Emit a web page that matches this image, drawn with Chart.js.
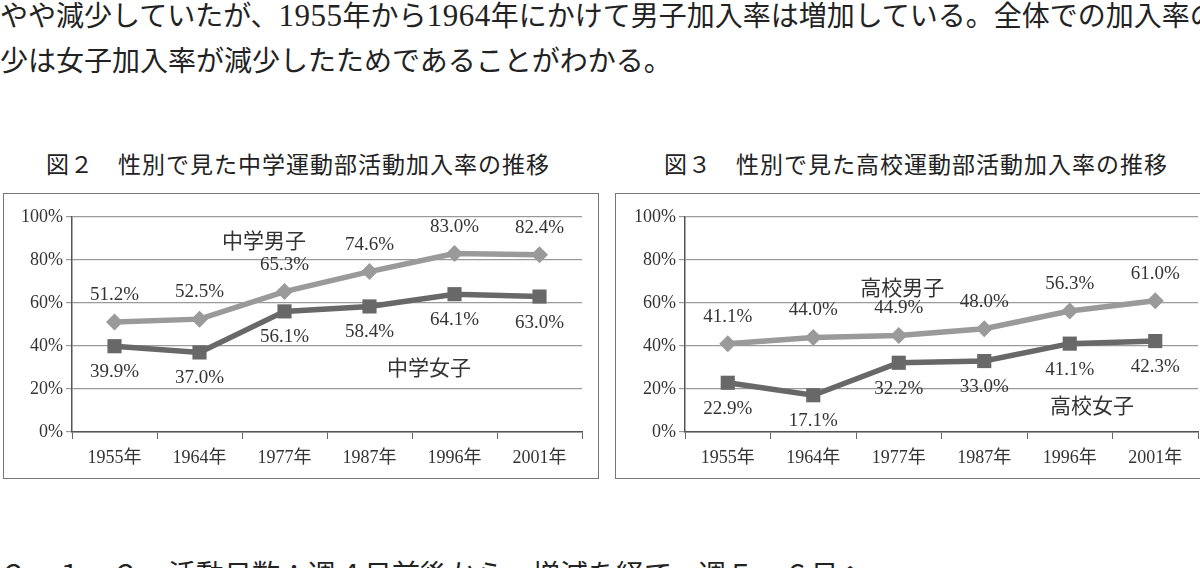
<!DOCTYPE html>
<html lang="ja">
<head>
  <meta charset="UTF-8">
  <title>運動部活動加入率の推移</title>
  <script src="https://cdn.jsdelivr.net/npm/chart.js"></script>
  <style>
    html, body { margin: 0; padding: 0; background: #fff; }
    body { width: 1200px; height: 568px; overflow: hidden; position: relative; color: #222;
           font-family: "Liberation Serif", "Noto Sans CJK JP", serif; }
    .txt { position: absolute; left: 0; white-space: nowrap; font-size: 28px; line-height: 28px; }
    .txt .n { font-size: 31px; letter-spacing: 0.5px; }
    .title { position: absolute; white-space: nowrap; font-size: 23px; line-height: 24px; letter-spacing: 1px;
             font-family: "Noto Sans CJK JP", sans-serif; }
    .box { position: absolute; top: 193px; height: 286px; border: 1.5px solid #777; box-sizing: border-box; }
    canvas { position: absolute; }
  </style>
</head>
<body>
  <div class="txt" style="top:2px">やや減少していたが、<span class="n">1955</span>年から<span class="n">1964</span>年にかけて男子加入率は増加している。全体での加入率の減</div>
  <div class="txt" style="top:48px">少は女子加入率が減少したためであることがわかる。</div>

  <div class="title" style="left:46px; top:151px">図２　性別で見た中学運動部活動加入率の推移</div>
  <div class="title" style="left:664px; top:151px">図３　性別で見た高校運動部活動加入率の推移</div>

  <div class="box" style="left:3px; width:596px"></div>
  <div class="box" style="left:615px; width:600px"></div>
  <canvas id="chart1" width="593" height="285" style="left:4px; top:194px; width:593px; height:285px"></canvas>
  <canvas id="chart2" width="593" height="285" style="left:617px; top:194px; width:593px; height:285px"></canvas>

  <div class="txt" style="top:562px">２．１．２　活動日数：週４日前後から、増減を経て、週５〜６日へ</div>

  <script>
    // data
    const years = ["1955年", "1964年", "1977年", "1987年", "1996年", "2001年"];
    const juniorBoys  = [51.2, 52.5, 65.3, 74.6, 83.0, 82.4];
    const juniorGirls = [39.9, 37.0, 56.1, 58.4, 64.1, 63.0];
    const highBoys    = [41.1, 44.0, 44.9, 48.0, 56.3, 61.0];
    const highGirls   = [22.9, 17.1, 32.2, 33.0, 41.1, 42.3];

    const boyColor = '#9a9a9a';
    const girlColor = '#686868';

    // value labels next to points + series names inside the plot
    const labelPlugin = {
      id: 'valueLabels',
      afterDatasetsDraw(chart, args, opts) {
        const ctx = chart.ctx;
        ctx.save();
        ctx.textAlign = 'center';
        ctx.textBaseline = 'middle';
        ctx.fillStyle = '#333';
        ctx.font = '19px "Liberation Serif", serif';
        chart.data.datasets.forEach((ds, i) => {
          const meta = chart.getDatasetMeta(i);
          const dy = ds.labelBelow ? 26 : -27;
          meta.data.forEach((pt, j) => {
            ctx.fillText(ds.data[j].toFixed(1) + '%', pt.x, pt.y + dy);
          });
        });
        ctx.font = '21px "Noto Sans CJK JP", sans-serif';
        (opts.names || []).forEach(n => {
          const x = chart.scales.x.getPixelForValue(n.at);
          const y = chart.scales.y.getPixelForValue(n.val);
          ctx.fillText(n.text, x, y);
        });
        ctx.restore();
      }
    };

    function makeChart(id, boys, girls, names, rightPad) {
      const ctx = document.getElementById(id).getContext('2d');
      return new Chart(ctx, {
        type: 'line',
        data: {
          labels: years,
          datasets: [
            {
              data: girls,
              labelBelow: true,
              borderColor: girlColor,
              backgroundColor: girlColor,
              borderWidth: 5.5,
              pointStyle: 'rect',
              pointRadius: 10,
              pointBorderWidth: 0,
              tension: 0,
              order: 1
            },
            {
              data: boys,
              labelBelow: false,
              borderColor: boyColor,
              backgroundColor: boyColor,
              borderWidth: 5.5,
              pointStyle: 'rectRot',
              pointRadius: 8.5,
              pointBorderWidth: 0,
              tension: 0,
              order: 2
            }
          ]
        },
        options: {
          responsive: false,
          animation: false,
          layout: { padding: { top: 23, right: rightPad, left: 0, bottom: 0 } },
          scales: {
            x: {
              offset: true,
              afterFit: s => { s.height = 47; },
              grid: { offset: true, drawOnChartArea: false, tickLength: 7, color: '#666' },
              border: { color: '#555', width: 1.5 },
              ticks: { padding: 8, color: '#333', font: { family: '"Liberation Serif", "Noto Sans CJK JP"', size: 18 } }
            },
            y: {
              min: 0,
              max: 100,
              afterFit: s => { s.width = 68; },
              grid: { color: '#9a9a9a', lineWidth: 1.2, tickLength: 6 },
              border: { color: '#555', width: 1.5 },
              ticks: {
                stepSize: 20,
                padding: 3,
                color: '#333',
                font: { family: '"Liberation Serif", serif', size: 18 },
                callback: v => v + '%'
              }
            }
          },
          plugins: {
            legend: { display: false },
            tooltip: { enabled: false },
            valueLabels: { names: names }
          }
        },
        plugins: [labelPlugin]
      });
    }

    makeChart('chart1', juniorBoys, juniorGirls, [
      { text: '中学男子', at: 1.76, val: 89.3 },
      { text: '中学女子', at: 3.7, val: 30.2 }
    ], 15);

    makeChart('chart2', highBoys, highGirls, [
      { text: '高校男子', at: 2.04, val: 67.4 },
      { text: '高校女子', at: 4.26, val: 12.6 }
    ], 12);
  </script>
</body>
</html>
